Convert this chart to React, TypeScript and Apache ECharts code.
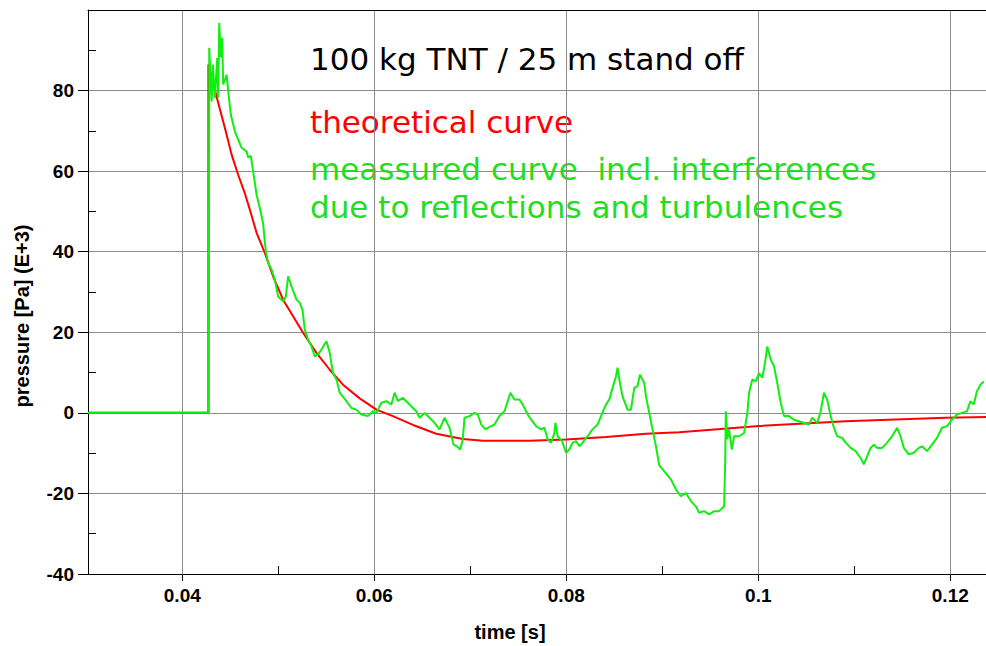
import { useEffect, useRef } from 'react';
import * as echarts from 'echarts';

// x axis range (time, s) and ticks
const xRange = [0.03018, 0.12372];
const xMajorTicks = [0.04, 0.06, 0.08, 0.1, 0.12];
const xMinorTicks = [0.05, 0.07, 0.09, 0.11];
// y axis range (pressure, Pa E+3) and ticks
const yRange = [-40, 100];
const yMajorTicks = [-40, -20, 0, 20, 40, 60, 80];
const yMinorTicks = [-30, -10, 10, 30, 50, 70, 90];

const titleText = '100 kg TNT / 25 m stand off';
const theoLabel = 'theoretical curve';
const measLabel1 = 'meassured curve  incl. interferences';
const measLabel2 = 'due to reflections and turbulences';
const xName = 'time [s]';
const yName = 'pressure [Pa] (E+3)';

// theoretical curve
const theoTime = [0.03018, 0.04272, 0.04272, 0.04374, 0.04444, 0.04514, 0.04582, 0.04652, 0.04704, 0.04774, 0.04860, 0.04946, 0.05050, 0.05154, 0.05258, 0.05398, 0.05536, 0.05674, 0.05848, 0.06022, 0.06194, 0.06403, 0.06646, 0.06922, 0.07131, 0.07616, 0.07998, 0.08414, 0.08830, 0.09176, 0.09974, 0.10910, 0.11950, 0.12372];
const theoPressure = [0, 0, 86.5, 77.0, 70.7, 64.1, 59.1, 54.5, 50.4, 44.7, 39.7, 33.9, 28.1, 24.0, 19.9, 14.9, 10.7, 7.0, 3.6, 0.8, -0.8, -3.0, -5.2, -6.5, -6.9, -6.9, -6.6, -6.0, -5.2, -4.8, -3.3, -2.1, -1.2, -1.0];

// measured curve
const measTime = [
  0.03018, 0.04276, 0.04281, 0.04306, 0.04319, 0.04340, 0.04364, 0.04374, 0.04385, 0.04402,
  0.04416, 0.04426, 0.04462, 0.04478, 0.04506, 0.04548, 0.04618, 0.04670, 0.04686, 0.04714,
  0.04738, 0.04774, 0.04815, 0.04842, 0.04870, 0.04894, 0.04930, 0.04964, 0.04998, 0.05050,
  0.05079, 0.05102, 0.05138, 0.05190, 0.05224, 0.05252, 0.05276, 0.05310, 0.05346, 0.05380,
  0.05414, 0.05450, 0.05502, 0.05536, 0.05570, 0.05606, 0.05640, 0.05710, 0.05762, 0.05814,
  0.05866, 0.05934, 0.05986, 0.06022, 0.06074, 0.06126, 0.06178, 0.06212, 0.06246, 0.06298,
  0.06350, 0.06386, 0.06438, 0.06472, 0.06524, 0.06576, 0.06628, 0.06680, 0.06732, 0.06784,
  0.06826, 0.06860, 0.06895, 0.06922, 0.06940, 0.06992, 0.07044, 0.07078, 0.07114, 0.07158,
  0.07200, 0.07252, 0.07304, 0.07356, 0.07390, 0.07418, 0.07460, 0.07512, 0.07546, 0.07598,
  0.07634, 0.07686, 0.07738, 0.07772, 0.07806, 0.07842, 0.07876, 0.07887, 0.07910, 0.07956,
  0.07998, 0.08032, 0.08066, 0.08102, 0.08136, 0.08170, 0.08222, 0.08274, 0.08326, 0.08362,
  0.08414, 0.08448, 0.08482, 0.08518, 0.08534, 0.08559, 0.08586, 0.08638, 0.08674, 0.08708,
  0.08742, 0.08767, 0.08812, 0.08830, 0.08864, 0.08898, 0.08934, 0.08968, 0.09038, 0.09090,
  0.09142, 0.09194, 0.09246, 0.09298, 0.09350, 0.09384, 0.09436, 0.09488, 0.09540, 0.09592,
  0.09644, 0.09655, 0.09662, 0.09678, 0.09696, 0.09724, 0.09748, 0.09800, 0.09852, 0.09886,
  0.09904, 0.09938, 0.09974, 0.10008, 0.10042, 0.10070, 0.10094, 0.10130, 0.10164, 0.10198,
  0.10234, 0.10268, 0.10320, 0.10372, 0.10424, 0.10476, 0.10528, 0.10562, 0.10614, 0.10650,
  0.10684, 0.10718, 0.10754, 0.10788, 0.10822, 0.10874, 0.10910, 0.10962, 0.11014, 0.11066,
  0.11100, 0.11134, 0.11170, 0.11204, 0.11238, 0.11290, 0.11342, 0.11394, 0.11446, 0.11482,
  0.11516, 0.11568, 0.11620, 0.11672, 0.11706, 0.11758, 0.11810, 0.11862, 0.11914, 0.11966,
  0.12018, 0.12070, 0.12122, 0.12174, 0.12210, 0.12244, 0.12278, 0.12314, 0.12348,
];
const measPressure = [
  0, 0, 90.6, 77.3, 86.4, 78.2, 88.1, 78.2, 96.8, 88.2,
  93.1, 81.5, 83.9, 80.0, 74.0, 69.9, 65.8, 64.9, 63.4, 63.8,
  60.0, 54.2, 50.1, 47.0, 40.1, 37.2, 35.6, 33.1, 28.9, 27.7,
  28.9, 33.9, 31.4, 28.1, 27.3, 25.6, 20.7, 18.2, 16.5, 14.0,
  14.5, 15.7, 17.8, 14.9, 9.9, 8.3, 5.0, 2.9, 1.2, 0.8,
  -0.4, -0.8, 0.4, 0, 2.5, 2.9, 2.1, 5.0, 2.9, 3.7,
  2.5, 1.6, 0.4, -1.2, 0, -1.2, -2.5, -4.1, -1.2, -3.7,
  -7.9, -8.3, -9.1, -6.6, -1.2, -0.8, 0, -0.4, -2.9, -4.1,
  -3.5, -2.9, -0.8, 0.4, 2.9, 5.0, 3.3, 3.3, 2.1, -0.4,
  -1.7, -3.3, -4.1, -3.7, -6.6, -7.4, -5.0, -2.5, -5.8, -7.0,
  -9.9, -9.1, -7.4, -7.0, -8.3, -7.4, -5.8, -4.1, -2.9, -0.8,
  2.1, 3.3, 6.2, 9.1, 11.2, 7.4, 4.1, 0.8, 0.8, 6.2,
  6.6, 9.5, 7.4, 4.1, 0, -4.1, -8.3, -13.0, -15.0, -16.5,
  -19.0, -20.7, -19.9, -21.9, -23.2, -24.8, -24.4, -25.2, -24.4, -24.4,
  -23.2, -12.4, 0.4, -6.6, -4.1, -9.1, -5.8, -5.8, -5.0, 0,
  5.0, 8.3, 7.8, 9.9, 8.7, 12.4, 16.5, 13.2, 11.6, 7.4,
  2.5, -0.8, -0.8, -1.7, -2.1, -2.5, -2.9, -1.2, -2.5, 0.4,
  5.0, 3.3, -0.8, -3.7, -5.8, -6.2, -7.4, -8.7, -9.5, -11.2,
  -12.8, -10.8, -8.7, -7.9, -8.7, -8.7, -7.4, -5.8, -3.7, -5.8,
  -8.7, -10.3, -9.9, -8.7, -8.3, -9.5, -7.9, -6.2, -3.7, -3.3,
  -1.7, -0.4, 0, 0.4, 2.9, 2.1, 5.4, 7.0, 7.8,
];

const zip = (a: number[], b: number[]) => a.map((v, i) => [v, b[i]]);

export default function App() {
  const ref = useRef<HTMLDivElement>(null);
  useEffect(() => {
    const chart = echarts.init(ref.current!, null, { renderer: 'svg' });
    const axisFont = {
      fontFamily: '"Liberation Sans", Arial, sans-serif',
      fontWeight: 'bold' as const,
      fontSize: 19,
      color: '#000',
    };
    const annFont = '"DejaVu Sans", sans-serif';
    const nameFont = 'bold 20px "Liberation Sans", Arial, sans-serif';
    const black = { color: '#000', width: 1 };
    const grid = { color: '#8c8c8c', width: 1 };
    chart.setOption({
      animation: false,
      backgroundColor: '#fff',
      grid: { left: 88, right: 0, top: 10, bottom: 72 },
      xAxis: [
        {
          type: 'value', position: 'bottom', min: xRange[0], max: xRange[1],
          axisLine: { show: true, onZero: false, lineStyle: black },
          axisTick: { show: true, customValues: xMajorTicks, length: 7, lineStyle: black },
          axisLabel: { customValues: xMajorTicks, margin: 12, ...axisFont, formatter: (v: number) => String(v) },
          splitLine: { show: true, lineStyle: grid },
        },
        {
          type: 'value', position: 'bottom', min: xRange[0], max: xRange[1],
          axisLine: { show: false, onZero: false },
          axisTick: { show: true, inside: true, customValues: xMinorTicks, length: 8, lineStyle: black },
          axisLabel: { show: false },
          splitLine: { show: false },
        },
        {
          type: 'value', position: 'top', min: xRange[0], max: xRange[1],
          axisLine: { show: true, onZero: false, lineStyle: black },
          axisTick: { show: false },
          axisLabel: { show: false },
          splitLine: { show: false },
        },
      ],
      yAxis: [
        {
          type: 'value', position: 'left', min: yRange[0], max: yRange[1], interval: 20,
          axisLine: { show: true, onZero: false, lineStyle: black },
          axisTick: { show: true, customValues: yMajorTicks, length: 10, lineStyle: black },
          axisLabel: { customValues: yMajorTicks, margin: 14, ...axisFont },
          splitLine: { show: true, lineStyle: grid },
        },
        {
          type: 'value', position: 'left', min: yRange[0], max: yRange[1], interval: 10,
          axisLine: { show: false, onZero: false },
          axisTick: { show: true, inside: true, customValues: yMinorTicks, length: 8, lineStyle: black },
          axisLabel: { show: false },
          splitLine: { show: false },
        },
      ],
      graphic: [
        { type: 'text', x: 310, y: 59, style: { text: titleText, fill: '#000', font: `31px ${annFont}`, align: 'left', verticalAlign: 'middle' } },
        { type: 'text', x: 310, y: 122, style: { text: theoLabel, fill: '#ff0000', font: `31px ${annFont}`, align: 'left', verticalAlign: 'middle' } },
        { type: 'text', x: 310, y: 169, style: { text: measLabel1, fill: '#22dd22', font: `31px ${annFont}`, align: 'left', verticalAlign: 'middle' } },
        { type: 'text', x: 310, y: 207, style: { text: measLabel2, fill: '#22dd22', font: `31px ${annFont}`, align: 'left', verticalAlign: 'middle' } },
        { type: 'text', x: 510, y: 632, style: { text: xName, fill: '#000', font: nameFont, align: 'center', verticalAlign: 'middle' } },
        { type: 'text', x: 22, y: 316, rotation: Math.PI / 2, style: { text: yName, fill: '#000', font: nameFont, align: 'center', verticalAlign: 'middle' } },
      ],
      series: [
        {
          type: 'line', xAxisIndex: 0, yAxisIndex: 0, data: zip(theoTime, theoPressure),
          showSymbol: false, symbol: 'none', lineStyle: { color: '#ff0000', width: 2 }, z: 2,
        },
        {
          type: 'line', xAxisIndex: 0, yAxisIndex: 0, data: zip(measTime, measPressure),
          showSymbol: false, symbol: 'none', lineStyle: { color: '#11ee11', width: 2 }, z: 3,
        },
      ],
    });
    return () => chart.dispose();
  }, []);
  return <div ref={ref} style={{ position: 'fixed', left: 0, top: 0, width: 986, height: 646, background: '#fff' }} />;
}
